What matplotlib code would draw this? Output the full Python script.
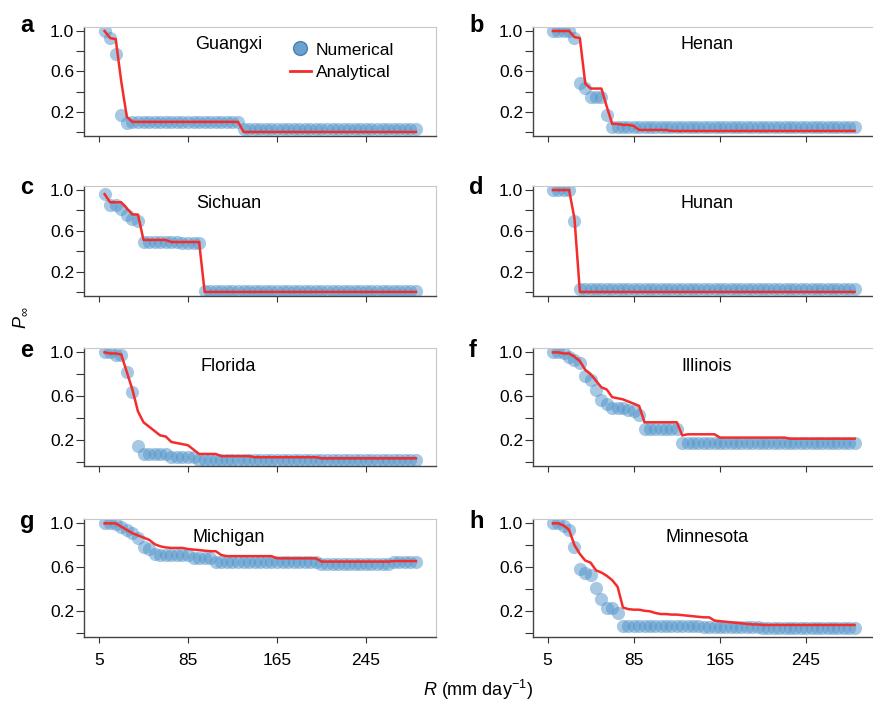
import matplotlib
matplotlib.use("Agg")
import matplotlib.pyplot as plt
from matplotlib.lines import Line2D
from matplotlib.ticker import FixedLocator

plt.rcParams['font.family'] = ['Liberation Sans', 'DejaVu Sans']
plt.rcParams['mathtext.fontset'] = 'custom'
plt.rcParams['mathtext.rm'] = 'Liberation Sans'
plt.rcParams['mathtext.it'] = 'Liberation Sans:italic'

# R (mm/day) sampled every 5 from 10 to 290
R = list(range(10, 291, 5))

regions = ['Guangxi', 'Henan', 'Sichuan', 'Hunan',
           'Florida', 'Illinois', 'Michigan', 'Minnesota']
letters = ['a', 'b', 'c', 'd', 'e', 'f', 'g', 'h']

# numerical (simulation) values
num_guangxi = [1.0, 0.93, 0.77, 0.17, 0.09] + [0.10] * 20 + [0.03] * 32
num_henan = [1.0, 1.0, 1.0, 1.0, 0.93, 0.49, 0.44, 0.35, 0.35, 0.35, 0.17] + [0.05] * 46
num_sichuan = [0.96, 0.85, 0.85, 0.81, 0.76, 0.72, 0.70] + [0.49] * 7 + [0.48] * 4 + [0.01] * 39
num_hunan = [1.0] * 4 + [0.70] + [0.03] * 52
num_florida = [1.0, 1.0, 0.98, 0.98, 0.82, 0.64, 0.14] + [0.07] * 5 + [0.04] * 5 + [0.015] * 40
num_illinois = [1.0, 1.0, 0.99, 0.96, 0.93, 0.90, 0.78, 0.75, 0.66, 0.56, 0.53,
                0.49, 0.49, 0.49, 0.47, 0.46, 0.43] + [0.30] * 7 + [0.17] * 33
num_michigan = [1.0, 1.0, 0.99, 0.97, 0.94, 0.91, 0.87, 0.78, 0.77, 0.72] + \
               [0.71] * 6 + [0.68] * 4 + [0.645] * 19 + [0.63] * 13 + [0.645] * 5
num_minnesota = [1.0, 1.0, 0.98, 0.94, 0.78, 0.585, 0.55, 0.53, 0.41, 0.31, 0.23, 0.23, 0.18] + \
                [0.06] * 15 + [0.05] * 11 + [0.04] * 18

# analytical values
ana_guangxi = [1.0, 0.93, 0.92, 0.50, 0.15] + [0.10] * 20 + [0.0] * 32
ana_henan = [1.0, 1.0, 1.0, 1.0, 0.94, 0.93, 0.48, 0.43, 0.43, 0.43, 0.25,
             0.08, 0.08, 0.07, 0.07, 0.06] + [0.02] * 6 + [0.01] * 35
ana_sichuan = [0.96, 0.88, 0.88, 0.88, 0.82, 0.76, 0.76, 0.51] + [0.51] * 4 + [0.49] * 6 + [0.0] * 39
ana_hunan = [1.0] * 4 + [0.72] + [0.0] * 52
ana_florida = [1.0, 0.99, 0.99, 0.98, 0.82, 0.66, 0.46, 0.36, 0.32, 0.28, 0.24, 0.23,
               0.18, 0.17, 0.16, 0.15, 0.11, 0.07] + [0.07] * 3 + [0.05] * 6 + [0.04] * 12 + [0.03] * 18
ana_illinois = [1.0, 1.0, 0.99, 0.99, 0.96, 0.92, 0.84, 0.80, 0.74, 0.68, 0.66,
                0.59, 0.58, 0.57, 0.55, 0.53, 0.51] + [0.36] * 7 + [0.24] + [0.25] * 6 + \
               [0.22] * 13 + [0.21] * 13
ana_michigan = [1.0, 1.0, 1.0, 0.97, 0.94, 0.91, 0.89, 0.87, 0.85, 0.81, 0.79,
                0.78, 0.775, 0.775, 0.775, 0.765, 0.76, 0.755, 0.75, 0.745, 0.745, 0.71] + \
               [0.70] * 9 + [0.68] * 8 + [0.65] * 13 + [0.655] * 5
ana_minnesota = [1.0, 1.0, 0.98, 0.94, 0.80, 0.72, 0.66, 0.64, 0.57, 0.55, 0.52, 0.48,
                 0.42, 0.23, 0.215, 0.21, 0.21, 0.20, 0.195, 0.18, 0.17, 0.17, 0.165,
                 0.165, 0.16, 0.155, 0.15, 0.145, 0.14, 0.14, 0.11, 0.105, 0.10, 0.095,
                 0.09, 0.085, 0.08, 0.075, 0.075, 0.07] + [0.07] * 17

numerical = [num_guangxi, num_henan, num_sichuan, num_hunan,
             num_florida, num_illinois, num_michigan, num_minnesota]
analytical = [ana_guangxi, ana_henan, ana_sichuan, ana_hunan,
              ana_florida, ana_illinois, ana_michigan, ana_minnesota]

x_ticks = [5, 85, 165, 245]
y_major = [0.2, 0.6, 1.0]
y_minor = [0.0, 0.4, 0.8]

W, H = 873, 702
fig = plt.figure(figsize=(W / 100, H / 100), dpi=100)

# axes boxes in pixels: (left, right) and (top, bottom)
col_x = [(84, 436), (533, 874)]
row_y = [(27, 136), (186, 296), (348, 466), (519, 637)]
letter_x = [20, 469]
letter_base = [32, 194, 357, 528]
name_x = [0.41, 0.51]

dot_color = '#4f93c9'
red = '#f42c2c'

for k in range(8):
    r, c = divmod(k, 2)
    l, rr = col_x[c]
    t, b = row_y[r]
    ax = fig.add_axes([l / W, 1 - b / H, (rr - l) / W, (b - t) / H])
    ax.plot(R, numerical[k], 'o', color=dot_color, alpha=0.5, ms=9.5, mec='none', zorder=2)
    ax.plot(R, analytical[k], '-', color=red, lw=1.8, zorder=3)

    ax.set_xlim(-8.5, 308)
    ax.set_ylim(-0.04, 1.04)
    ax.set_xticks(x_ticks)
    ax.yaxis.set_major_locator(FixedLocator(y_major))
    ax.yaxis.set_minor_locator(FixedLocator(y_minor))
    ax.set_yticklabels(['0.2', '0.6', '1.0'])
    if r < 3:
        ax.set_xticklabels([])
    ax.tick_params(axis='y', which='both', direction='out', length=5.5, width=0.8,
                   color='#333333', labelsize=12.5, pad=1.5)
    ax.tick_params(axis='x', direction='out', length=4.5, width=0.8,
                   color='#333333', labelsize=12.5, pad=7)
    for s in ['left', 'bottom']:
        ax.spines[s].set_color('#444444')
        ax.spines[s].set_linewidth(1.0)
    for s in ['top', 'right']:
        ax.spines[s].set_color('#c8c8c8')
        ax.spines[s].set_linewidth(0.8)

    ax.text(name_x[c], 0.84, regions[k], transform=ax.transAxes,
            ha='center', va='center', fontsize=13)
    fig.text(letter_x[c] / W, 1 - letter_base[r] / H, letters[k],
             ha='left', va='baseline', fontsize=17, fontweight='bold')

    if k == 0:
        handles = [Line2D([], [], marker='o', ls='none', color='#3a82c0', alpha=0.75,
                          ms=10, mec='#2a6aa0'),
                   Line2D([], [], color=red, lw=2)]
        ax.legend(handles, ['Numerical', 'Analytical'], loc='upper left',
                  bbox_to_anchor=(0.55, 0.97), frameon=False, fontsize=12.5,
                  handlelength=1.2, handletextpad=0.3, labelspacing=0.4,
                  borderpad=0.2)

fig.text(20 / W, 1 - 318 / H, r'$P_{\infty}$', rotation=90, ha='center', va='center',
         fontsize=13)
fig.text(478 / W, 1 - 690 / H, r'$R$ (mm day$^{-1}$)', ha='center', va='center',
         fontsize=13)

fig.savefig('out.png', dpi=100)
